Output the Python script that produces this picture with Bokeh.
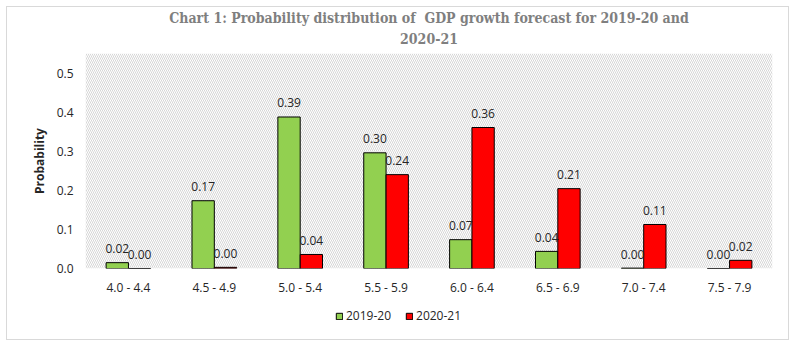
from bokeh.plotting import figure
from bokeh.layouts import column
from bokeh.models import (ColumnDataSource, FixedTicker, NumeralTickFormatter, Legend,
                          LegendItem, BoxAnnotation, Title)
from bokeh.embed import file_html
from bokeh.resources import INLINE
from bokeh.core.properties import value

categories = ["4.0 - 4.4", "4.5 - 4.9", "5.0 - 5.4", "5.5 - 5.9",
              "6.0 - 6.4", "6.5 - 6.9", "7.0 - 7.4", "7.5 - 7.9"]
series_names = ["2019-20", "2020-21"]
values_2019 = [0.015, 0.174, 0.389, 0.297, 0.074, 0.044, 0.001, 0.0]
values_2020 = [0.0, 0.003, 0.036, 0.241, 0.362, 0.205, 0.113, 0.021]
labels_2019 = ["0.02", "0.17", "0.39", "0.30", "0.07", "0.04", "0.00", "0.00"]
labels_2020 = ["0.00", "0.00", "0.04", "0.24", "0.36", "0.21", "0.11", "0.02"]
y_ticks = [0.0, 0.1, 0.2, 0.3, 0.4, 0.5]

GREEN = "#92d050"
RED = "#ff0000"
TEXT = "#262626"
FONT = "Open Sans"
TFONT = "DejaVu Serif Condensed"
bar_w = 0.26

idx = list(range(len(categories)))
x_green = [i + 0.5 - bar_w / 2 for i in idx]
x_red = [i + 0.5 + bar_w / 2 for i in idx]

src_g = ColumnDataSource(dict(x=x_green, top=values_2019, lab=labels_2019))
src_r = ColumnDataSource(dict(x=x_red, top=values_2020, lab=labels_2020))

p = figure(width=781, height=293, x_range=(0, len(categories)), y_range=(0, 0.552),
           output_backend="svg", toolbar_location=None, title=None,
           min_border_left=78, min_border_right=16, min_border_top=46, min_border_bottom=32)
p.outline_line_color = None
p.background_fill_color = "white"
p.border_fill_color = "white"

bg = BoxAnnotation(fill_color="white", fill_alpha=1.0, line_color=None,
                   hatch_pattern="\\", hatch_color="#cccccc", hatch_scale=4,
                   hatch_weight=0.8, level="underlay")
p.add_layout(bg)

t_sp = Title(text="\u00a0", align="center", text_font=TFONT, text_font_size="2px",
             standoff=0, offset=0)
t2 = Title(text="2020-21", align="center", text_font=TFONT, text_font_size="14px",
           text_color="#7f7f7f", text_font_style="bold", standoff=11, offset=0)
t1 = Title(text="Chart 1: Probability distribution of \u00a0GDP growth forecast for 2019-20 and",
           align="center", text_font=TFONT, text_font_size="14px",
           text_color="#7f7f7f", text_font_style="bold", standoff=0, offset=0)
p.add_layout(t_sp, "above")
p.add_layout(t2, "above")
p.add_layout(t1, "above")

rg = p.vbar(x="x", top="top", width=bar_w, bottom=0, source=src_g,
            fill_color=GREEN, line_color="black", line_width=1)
rr = p.vbar(x="x", top="top", width=bar_w, bottom=0, source=src_r,
            fill_color=RED, line_color="black", line_width=1)

for s in (src_g, src_r):
    p.text(x="x", y="top", text="lab", source=s, text_align="center",
           text_baseline="middle", y_offset=-14, text_font=value(FONT),
           text_font_size="12px", text_color=TEXT)

p.xaxis.ticker = FixedTicker(ticks=[i + 0.5 for i in idx])
p.xaxis.major_label_overrides = {i + 0.5: c for i, c in zip(idx, categories)}
p.xgrid.ticker = FixedTicker(ticks=list(range(len(categories) + 1)))
p.yaxis.ticker = FixedTicker(ticks=y_ticks)
p.yaxis.formatter = NumeralTickFormatter(format="0.0")
p.ygrid.ticker = FixedTicker(ticks=y_ticks)

for g in (p.xgrid, p.ygrid):
    g.grid_line_color = "#d9d9d9"
    g.grid_line_width = 1

for ax in (p.xaxis, p.yaxis):
    ax.axis_line_color = None
    ax.major_tick_line_color = None
    ax.minor_tick_line_color = None
    ax.major_tick_out = 0
    ax.major_tick_in = 0
    ax.minor_tick_out = 0
    ax.minor_tick_in = 0
    ax.major_label_text_font = FONT
    ax.major_label_text_font_size = "12px"
    ax.major_label_text_color = TEXT
p.xaxis.major_label_standoff = 10
p.yaxis.major_label_standoff = 12
p.yaxis.axis_label = "Probability"
p.yaxis.axis_label_text_font = FONT
p.yaxis.axis_label_text_font_size = "12px"
p.yaxis.axis_label_text_font_style = "bold"
p.yaxis.axis_label_text_color = TEXT
p.yaxis.axis_label_standoff = 6

# legend strip below the chart; its swatches come from hidden renderers
# that share the bars' sources and styles
p2 = figure(width=781, height=39, x_range=(100, 101), y_range=(0, 1),
            output_backend="svg", toolbar_location=None, title=None,
            x_axis_location=None, y_axis_location=None, min_border=0)
p2.grid.visible = False
p2.outline_line_color = None
p2.background_fill_color = "white"
p2.border_fill_color = "white"
pg = p2.vbar(x="x", top="top", width=bar_w, source=src_g,
             fill_color=GREEN, line_color="black", line_width=1)
pr = p2.vbar(x="x", top="top", width=bar_w, source=src_r,
             fill_color=RED, line_color="black", line_width=1)
pg.visible = False
pr.visible = False
legend = Legend(items=[LegendItem(label=series_names[0], renderers=[pg], index=0),
                       LegendItem(label=series_names[1], renderers=[pr], index=0)],
                orientation="horizontal", location=(250, 15),
                label_text_font=FONT, label_text_font_size="12px",
                label_text_color=TEXT, glyph_width=8, glyph_height=8,
                label_standoff=3, spacing=14, border_line_color=None,
                background_fill_alpha=0, margin=0, padding=2)
p2.add_layout(legend)

layout = column(p, p2, spacing=0, margin=(6, 0, 0, 6),
                styles={"border": "1px solid #d9d9d9"})

open("out.html", "w").write(file_html(layout, INLINE))
